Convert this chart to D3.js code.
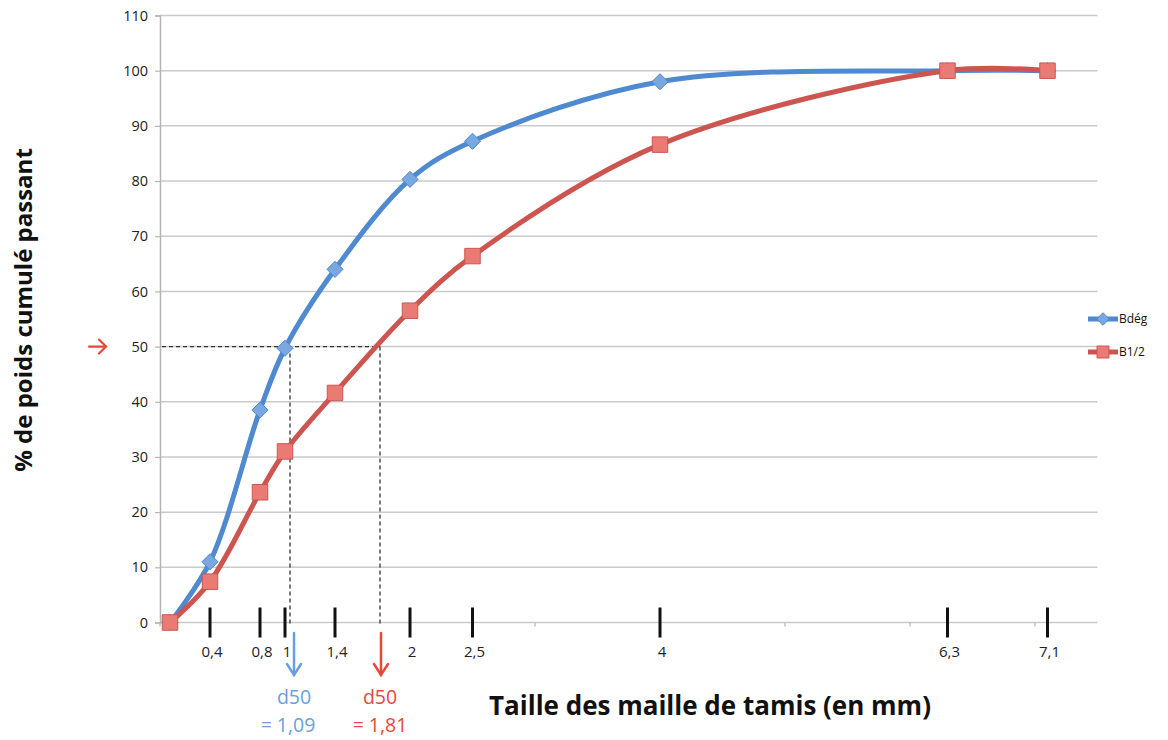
<!DOCTYPE html>
<html><head><meta charset="utf-8">
<script src="https://cdn.jsdelivr.net/npm/d3@7"></script>
<style>body{margin:0;background:#fff}svg{display:block}</style>
</head><body><svg id="c" width="1168" height="740"></svg>
<script>
const sieves = [0.08, 0.4, 0.8, 1, 1.4, 2, 2.5, 4, 6.3, 7.1];
const sieveLabels = ["", "0,4", "0,8", "1", "1,4", "2", "2,5", "4", "6,3", "7,1"];
const bdeg = [0, 11, 38.5, 49.7, 64, 80.3, 87.2, 98, 100, 100];
const b12 = [0, 7.4, 23.6, 31, 41.6, 56.5, 66.4, 86.6, 100, 100];
const yTicks = [0,10,20,30,40,50,60,70,80,90,100,110];
const minorX = [0,1,2,3,4,5,6,7];
const d50Pos = [1.04, 1.76];          // dashed line positions
const d50Text = ["= 1,09", "= 1,81"];
const seriesNames = ["Bdég", "B1/2"];

const svg = d3.select("#c");
const font = "'Open Sans', 'Liberation Sans', sans-serif";
const x = d3.scaleLinear().domain([0, 7.5]).range([160, 1097.5]);
const y = d3.scaleLinear().domain([0, 110]).range([622.5, 15.5]);
const blue = "#4f89cf", blueFill = "#79a7e0", red = "#cd5550", redFill = "#ec7a74";

// grid
svg.append("g").selectAll("line").data(yTicks).join("line")
  .attr("x1", x(0)).attr("x2", x(7.5)).attr("y1", d=>y(d)).attr("y2", d=>y(d))
  .attr("stroke", "#cacaca").attr("stroke-width", 1.5);

// y axis
const ya = svg.append("g").attr("transform", `translate(${x(0)},0)`)
  .call(d3.axisLeft(y).tickValues(yTicks).tickSize(5).tickPadding(7).tickFormat(d3.format("d")));
ya.select(".domain").attr("stroke", "#b5b5b5").attr("stroke-width", 1.5);
ya.selectAll(".tick line").attr("stroke", "#b5b5b5").attr("stroke-width", 1.2);
ya.selectAll("text").attr("font-family", font).attr("font-size", 14.5).attr("fill", "#222");

// minor gray x ticks (Excel axis)
svg.append("g").selectAll("line").data(minorX).join("line")
  .attr("x1", d=>x(d)).attr("x2", d=>x(d)).attr("y1", y(0)).attr("y2", y(0)+4)
  .attr("stroke", "#b5b5b5").attr("stroke-width", 1.2);

// manual black ticks + labels
const tickIdx = sieves.map((s,i)=>i).filter(i=>sieveLabels[i] !== "");
svg.append("g").selectAll("line").data(tickIdx).join("line")
  .attr("x1", i=>x(sieves[i])).attr("x2", i=>x(sieves[i]))
  .attr("y1", y(0)-15).attr("y2", y(0)+15)
  .attr("stroke", "#111").attr("stroke-width", 3);
svg.append("g").selectAll("text").data(tickIdx).join("text")
  .attr("x", i=>x(sieves[i])+2).attr("y", y(0)+34)
  .attr("text-anchor", "middle").attr("font-family", font).attr("font-size", 15).attr("fill", "#222")
  .text(i=>sieveLabels[i]);

// dashed d50 guides
const dash = svg.append("g").attr("stroke", "#333").attr("stroke-width", 1.3).attr("stroke-dasharray", "4,3").attr("fill","none");
dash.append("line").attr("x1", x(0)+2).attr("x2", x(d50Pos[1])).attr("y1", y(50)).attr("y2", y(50));
d50Pos.forEach(p => dash.append("line").attr("x1", x(p)).attr("x2", x(p)).attr("y1", y(50)).attr("y2", y(0)+2));

// series lines
const line = d3.line().x(d=>x(d[0])).y(d=>y(d[1])).curve(d3.curveCatmullRom.alpha(0.5));
const diamond = { draw(ctx, size){ const r = Math.sqrt(size/2); ctx.moveTo(0,-r); ctx.lineTo(r,0); ctx.lineTo(0,r); ctx.lineTo(-r,0); ctx.closePath(); } };
const series = [
  {name: seriesNames[0], vals: bdeg, color: blue, fill: blueFill, shape: diamond, size: 130},
  {name: seriesNames[1], vals: b12, color: red, fill: redFill, shape: d3.symbolSquare, size: 240}
];
series.forEach(s => {
  svg.append("path").attr("d", line(sieves.map((v,i)=>[v, s.vals[i]])))
    .attr("fill","none").attr("stroke", s.color).attr("stroke-width", 5).attr("stroke-linecap","round");
});
series.forEach(s => {
  svg.append("g").selectAll("path").data(sieves.map((v,i)=>[v, s.vals[i]])).join("path")
    .attr("transform", d=>`translate(${x(d[0])},${y(d[1])})`)
    .attr("d", d3.symbol().type(s.shape).size(s.size)())
    .attr("fill", s.fill).attr("stroke", s.color).attr("stroke-width", 1);
});

// legend
series.forEach((s,i) => {
  const ly = 319 + i*33;
  svg.append("line").attr("x1", 1088).attr("x2", 1118).attr("y1", ly).attr("y2", ly)
    .attr("stroke", s.color).attr("stroke-width", 5);
  svg.append("path").attr("transform", `translate(1103,${ly})`)
    .attr("d", d3.symbol().type(s.shape).size(s.size*0.6)()).attr("fill", s.fill).attr("stroke", s.color);
  svg.append("text").attr("x", 1119).attr("y", ly+4).attr("font-family", font).attr("font-size", 12).attr("fill","#111").text(s.name);
});

// arrows
function arrowDown(cx, y1, y2, color){
  const g = svg.append("g").attr("stroke", color).attr("stroke-width", 2.5).attr("fill","none").attr("stroke-linecap","round");
  g.append("line").attr("x1", cx).attr("x2", cx).attr("y1", y1).attr("y2", y2);
  g.append("path").attr("d", `M${cx-7},${y2-11}L${cx},${y2}L${cx+7},${y2-11}`);
}
arrowDown(294, 633, 675, "#6a9fdc");
arrowDown(381, 633, 675, "#e8473a");
const ra = svg.append("g").attr("stroke", "#e8473a").attr("stroke-width", 2.2).attr("fill","none").attr("stroke-linecap","round");
ra.append("line").attr("x1", 89).attr("x2", 106).attr("y1", y(50)).attr("y2", y(50));
ra.append("path").attr("d", `M${99},${y(50)-7}L${106},${y(50)}L${99},${y(50)+7}`);

// d50 labels
const dc = ["#6a9fdc", "#e8473a"];
const d50cx = [[294, 288], [380, 380]];
d50Pos.forEach((p,i) => {
  svg.append("text").attr("x", d50cx[i][0]).attr("y", 704).attr("text-anchor","middle").attr("font-family", font).attr("font-size", 19.5).attr("fill", dc[i]).text("d50");
  svg.append("text").attr("x", d50cx[i][1]).attr("y", 732).attr("text-anchor","middle").attr("font-family", font).attr("font-size", 19.5).attr("fill", dc[i]).text(d50Text[i]);
});

// axis titles
svg.append("text").attr("x", 710).attr("y", 715).attr("text-anchor","middle").attr("font-family", font)
  .attr("font-weight","bold").attr("font-size", 26).attr("fill","#111").text("Taille des maille de tamis (en mm)");
svg.append("text").attr("transform", "translate(32,310) rotate(-90)").attr("text-anchor","middle").attr("font-family", font)
  .attr("font-weight","bold").attr("font-size", 24).attr("fill","#111").text("% de poids cumulé passant");
</script></body></html>
